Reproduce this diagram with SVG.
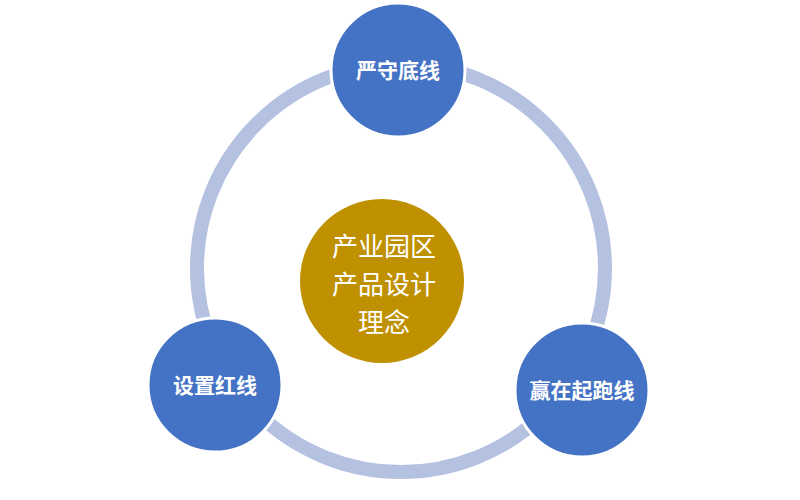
<svg xmlns="http://www.w3.org/2000/svg" width="800" height="500" viewBox="0 0 800 500">
<style>
.n{fill:#4472C4;stroke:#fff;stroke-width:3}
.t{font-family:"Liberation Sans","Noto Sans CJK SC",sans-serif;font-weight:bold;font-size:21px;fill:#fff;text-anchor:middle}
.c{font-family:"Liberation Sans","Noto Sans CJK SC",sans-serif;font-size:26px;fill:#fff;text-anchor:middle}
</style>
<rect width="800" height="500" fill="#fff"/>
<g id="connectors"><circle cx="401" cy="268" r="204" fill="none" stroke="#B4C1E1" stroke-width="14"/></g>
<g id="center"><circle cx="382" cy="281" r="82" fill="#BF9000"/>
<text class="c" x="384" y="256">产业园区</text><text class="c" x="384" y="294">产品设计</text><text class="c" x="384" y="332">理念</text></g>
<g id="top"><circle class="n" cx="398" cy="70" r="67"/><text class="t" x="398" y="78">严守底线</text></g>
<g id="left"><circle class="n" cx="215" cy="385" r="67"/><text class="t" x="215" y="393">设置红线</text></g>
<g id="right"><circle class="n" cx="582" cy="390" r="67"/><text class="t" x="582" y="398">赢在起跑线</text></g>
</svg>
